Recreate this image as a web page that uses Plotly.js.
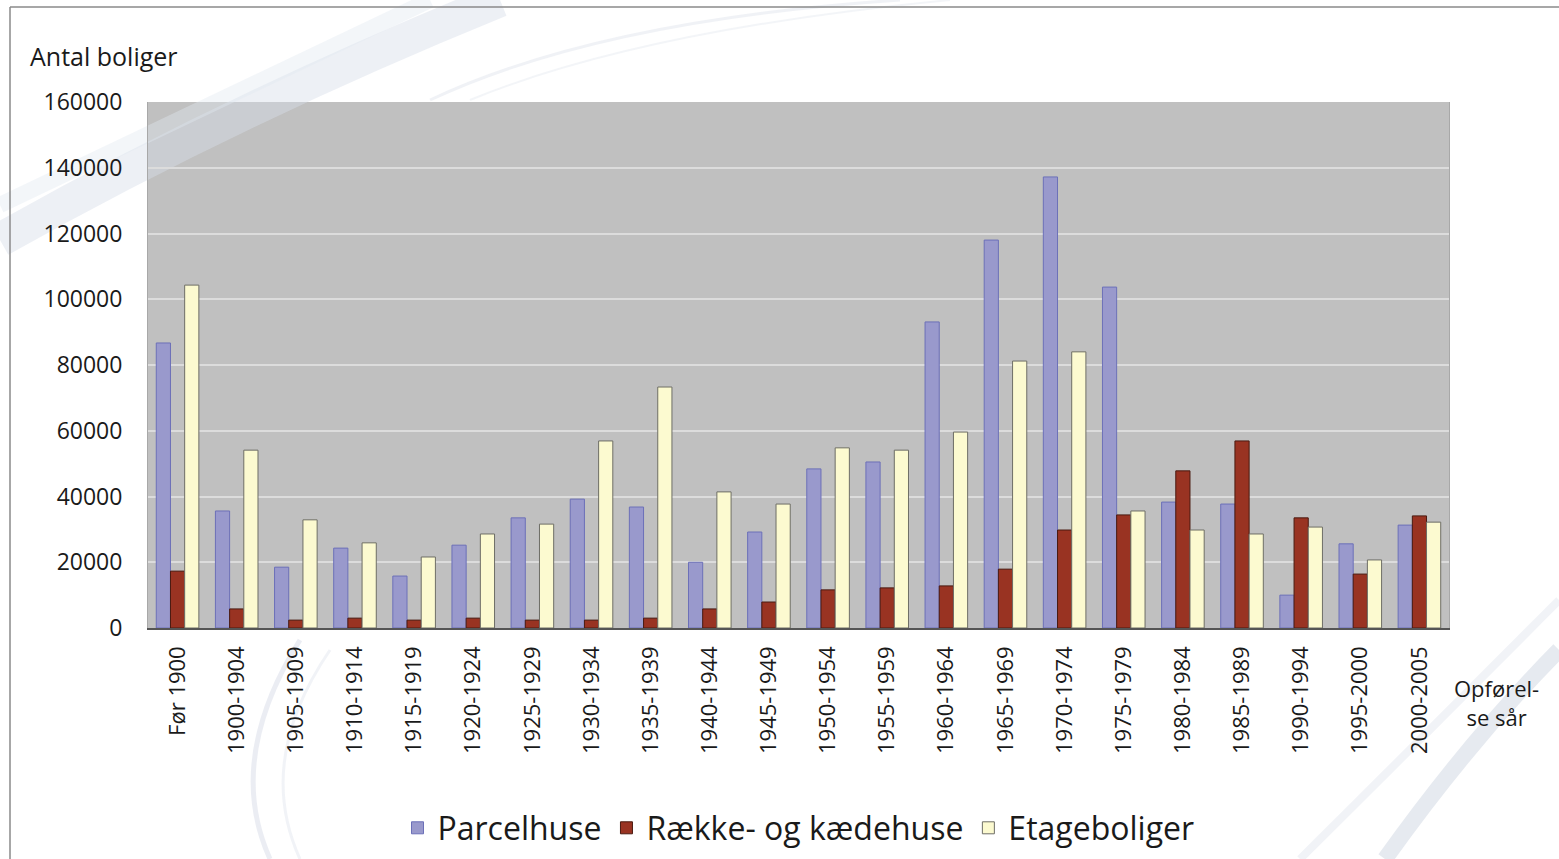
<!DOCTYPE html>
<html>
<head>
<meta charset="utf-8">
<script src="https://cdn.plot.ly/plotly-3.0.1.min.js"></script>
<style>
html,body{margin:0;padding:0;background:#fff;}
#chart{width:1559px;height:859px;}
</style>
</head>
<body>
<div id="chart"></div>
<script>
const categories = ["Før 1900","1900-1904","1905-1909","1910-1914","1915-1919","1920-1924","1925-1929","1930-1934","1935-1939","1940-1944","1945-1949","1950-1954","1955-1959","1960-1964","1965-1969","1970-1974","1975-1979","1980-1984","1985-1989","1990-1994","1995-2000","2000-2005"];
const parcelhuse = [86700,35600,18500,24300,15800,25200,33500,39200,36800,20000,29200,48400,50500,93100,118000,137200,103700,38300,37700,10000,25600,31300];
const raekkehuse = [17300,5800,2400,3000,2400,3000,2400,2400,3000,5800,7900,11600,12200,12800,17900,29800,34400,47800,56900,33500,16400,34100];
const etageboliger = [104300,54100,32900,25900,21600,28600,31600,56900,73300,41400,37700,54800,54100,59600,81200,84000,35600,29800,28600,30700,20700,32200];
const seriesNames = ["Parcelhuse","Række- og kædehuse","Etageboliger"];
const yTicks = [0,20000,40000,60000,80000,100000,120000,140000,160000];

// plot area in pixels: x 148..1449, y 102..628
const W=1559, H=859;
const L=148, R=1449, T=102, B=628;
function px(x){return (x-L)/(R-L);}
function py(y){return (B-y)/(B-T);}

const font = "'Open Sans', 'Noto Sans', sans-serif";

const traces = [
  {type:'bar', name:seriesNames[0], x:categories, y:parcelhuse,
   marker:{color:'#9999CC', line:{color:'#6C70B8', width:1}}},
  {type:'bar', name:seriesNames[1], x:categories, y:raekkehuse,
   marker:{color:'#993322', line:{color:'#4A1A10', width:1}}},
  {type:'bar', name:seriesNames[2], x:categories, y:etageboliger,
   marker:{color:'#FCFAD0', line:{color:'#6E6E66', width:1}}}
];

function swoosh(d, color, w){
  return {type:'path', xref:'paper', yref:'paper', layer:'below', path:d,
          line:{color:color, width:w}, fillcolor:'rgba(0,0,0,0)'};
}
function P(pts){
  return pts.map(p=> typeof p==='string'? p : (px(p[0]).toFixed(4)+','+py(p[1]).toFixed(4))).join(' ');
}

const shapes = [
  swoosh(P(['M',[0,240],'Q',[230,110],[500,0]]), 'rgba(214,222,232,0.45)', 34),
  swoosh(P(['M',[0,205],'Q',[230,95],[430,0]]), 'rgba(226,232,240,0.4)', 16),
  swoosh(P(['M',[430,100],'Q',[600,20],[900,0]]), 'rgba(225,230,238,0.5)', 3),
  swoosh(P(['M',[470,100],'Q',[640,30],[950,0]]), 'rgba(232,236,242,0.5)', 2),
  swoosh(P(['M',[270,859],'Q',[225,760],[300,640]]), 'rgba(210,216,228,0.45)', 5),
  swoosh(P(['M',[300,859],'Q',[255,760],[330,650]]), 'rgba(220,225,235,0.4)', 3),
  swoosh(P(['M',[1385,859],'Q',[1470,740],[1559,650]]), 'rgba(205,213,226,0.5)', 16),
  swoosh(P(['M',[1300,859],'Q',[1420,740],[1559,600]]), 'rgba(220,226,235,0.4)', 8),
  {type:'line', xref:'paper', yref:'paper', x0:px(10), x1:px(1559), y0:py(7), y1:py(7), line:{color:'#8A8A8A', width:1.5}},
  {type:'line', xref:'paper', yref:'paper', x0:px(10), x1:px(10), y0:py(7), y1:py(859), line:{color:'#8A8A8A', width:1.5}}
];

const layout = {
  width:W, height:H,
  margin:{l:L, r:W-R, t:T, b:H-B, pad:0, autoexpand:false},
  paper_bgcolor:'#FFFFFF',
  plot_bgcolor:'#C0C0C0',
  font:{family:font, color:'#1a1a1a'},
  barmode:'group',
  bargap:0.28,
  bargroupgap:0,
  showlegend:true,
  legend:{orientation:'h', xref:'container', yref:'container', x:(362+1235)/2/W, xanchor:'center', y:(H-828)/H, yanchor:'middle',
          font:{size:32, family:font, color:'#1a1a1a'}, itemwidth:30, bgcolor:'rgba(0,0,0,0)', traceorder:'normal'},
  xaxis:{type:'category', tickangle:-90, tickfont:{size:22, family:font, color:'#1a1a1a'},
         showline:true, linecolor:'#555555', linewidth:1.5, mirror:false, automargin:false,
         ticks:'outside', ticklen:8, tickcolor:'rgba(0,0,0,0)', showgrid:false, zeroline:false, fixedrange:true},
  yaxis:{range:[0,160000], tickvals:yTicks, ticktext:yTicks.map(String), automargin:false,
         tickfont:{size:23, family:font, color:'#1a1a1a'},
         showgrid:true, gridcolor:'#DCDCDC', gridwidth:2,
         showline:true, linecolor:'#A8A8A8', linewidth:1, mirror:true,
         ticks:'outside', ticklen:20, tickcolor:'rgba(0,0,0,0)', zeroline:false, fixedrange:true},
  annotations:[
    {text:'Antal boliger', xref:'paper', yref:'paper', x:px(28), y:py(56), xanchor:'left', yanchor:'middle',
     showarrow:false, font:{size:25, family:font, color:'#1a1a1a'}},
    {text:'Opførel-<br>se sår', xref:'paper', yref:'paper', x:px(1496), y:py(702), xanchor:'center', yanchor:'middle',
     showarrow:false, align:'center', font:{size:22, family:font, color:'#1a1a1a'}}
  ],
  shapes:shapes
};

Plotly.newPlot('chart', traces, layout, {displayModeBar:false, staticPlot:true});
</script>
</body>
</html>
